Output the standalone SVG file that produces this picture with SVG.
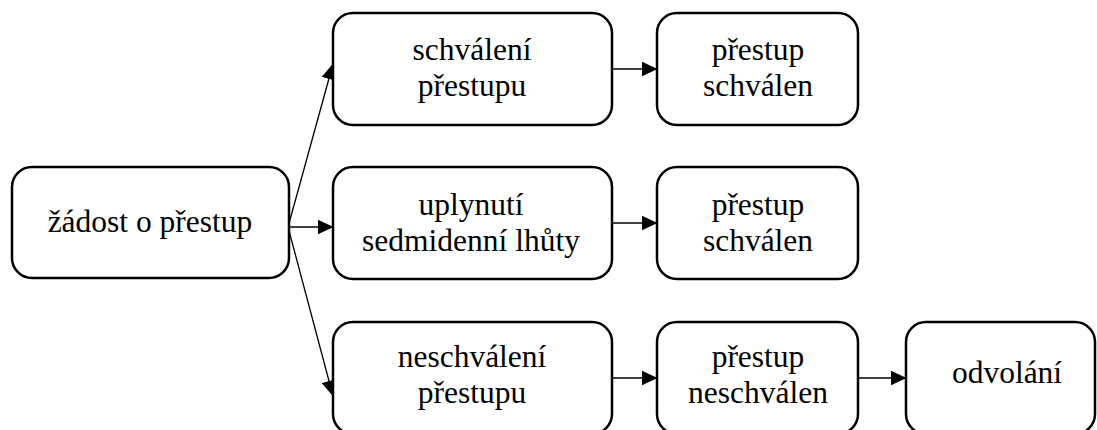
<svg xmlns="http://www.w3.org/2000/svg" width="1097" height="430" viewBox="0 0 1097 430">
<defs>
<marker id="arr" markerUnits="userSpaceOnUse" markerWidth="16" markerHeight="15" viewBox="0 0 16 15" refX="15.5" refY="7.5" orient="auto">
<path d="M0,0 L16,7.5 L0,15 Z" fill="#000"/>
</marker>
</defs>
<style>
.box{fill:#fff;stroke:#000;stroke-width:2.5}
.c{stroke:#000;stroke-width:1.3;fill:none;marker-end:url(#arr)}
</style>
<rect width="1097" height="430" fill="#fff"/>
<g id="connectors">
<line class="c" x1="288" y1="227" x2="333" y2="64"/>
<line class="c" x1="288" y1="227" x2="333" y2="227"/>
<line class="c" x1="288" y1="227" x2="333" y2="396"/>
<line class="c" x1="612" y1="69" x2="657" y2="69"/>
<line class="c" x1="612" y1="223" x2="657" y2="223"/>
<line class="c" x1="612" y1="378" x2="657" y2="378"/>
<line class="c" x1="858" y1="378" x2="906" y2="378"/>
</g>
<g id="n-zadost">
<rect class="box" x="12" y="167" width="277" height="111" rx="20"/>
<text x="150" y="232" font-family="Liberation Serif" font-size="31.5" text-anchor="middle">žádost o přestup</text>
</g>
<g id="n-schvaleni">
<rect class="box" x="333" y="13" width="279" height="112" rx="20"/>
<text x="472" y="60" font-family="Liberation Serif" font-size="31.5" text-anchor="middle">schválení</text>
<text x="472" y="96" font-family="Liberation Serif" font-size="31.5" text-anchor="middle">přestupu</text>
</g>
<g id="n-uplynuti">
<rect class="box" x="333" y="167" width="279" height="112" rx="20"/>
<text x="471" y="215" font-family="Liberation Serif" font-size="31.5" text-anchor="middle">uplynutí</text>
<text x="471" y="251" font-family="Liberation Serif" font-size="31.5" text-anchor="middle">sedmidenní lhůty</text>
</g>
<g id="n-neschvaleni">
<rect class="box" x="333" y="322" width="279" height="112" rx="20"/>
<text x="472" y="367" font-family="Liberation Serif" font-size="31.5" text-anchor="middle">neschválení</text>
<text x="472" y="403" font-family="Liberation Serif" font-size="31.5" text-anchor="middle">přestupu</text>
</g>
<g id="n-schvalen1">
<rect class="box" x="657" y="13" width="201" height="112" rx="20"/>
<text x="758" y="60" font-family="Liberation Serif" font-size="31.5" text-anchor="middle">přestup</text>
<text x="758" y="96" font-family="Liberation Serif" font-size="31.5" text-anchor="middle">schválen</text>
</g>
<g id="n-schvalen2">
<rect class="box" x="657" y="167" width="201" height="112" rx="20"/>
<text x="758" y="215" font-family="Liberation Serif" font-size="31.5" text-anchor="middle">přestup</text>
<text x="758" y="251" font-family="Liberation Serif" font-size="31.5" text-anchor="middle">schválen</text>
</g>
<g id="n-neschvalen">
<rect class="box" x="657" y="322" width="201" height="112" rx="20"/>
<text x="758" y="367" font-family="Liberation Serif" font-size="31.5" text-anchor="middle">přestup</text>
<text x="758" y="403" font-family="Liberation Serif" font-size="31.5" text-anchor="middle">neschválen</text>
</g>
<g id="n-odvolani">
<rect class="box" x="906" y="322" width="189" height="112" rx="20"/>
<text x="1007" y="383" font-family="Liberation Serif" font-size="31.5" text-anchor="middle">odvolání</text>
</g>
</svg>
